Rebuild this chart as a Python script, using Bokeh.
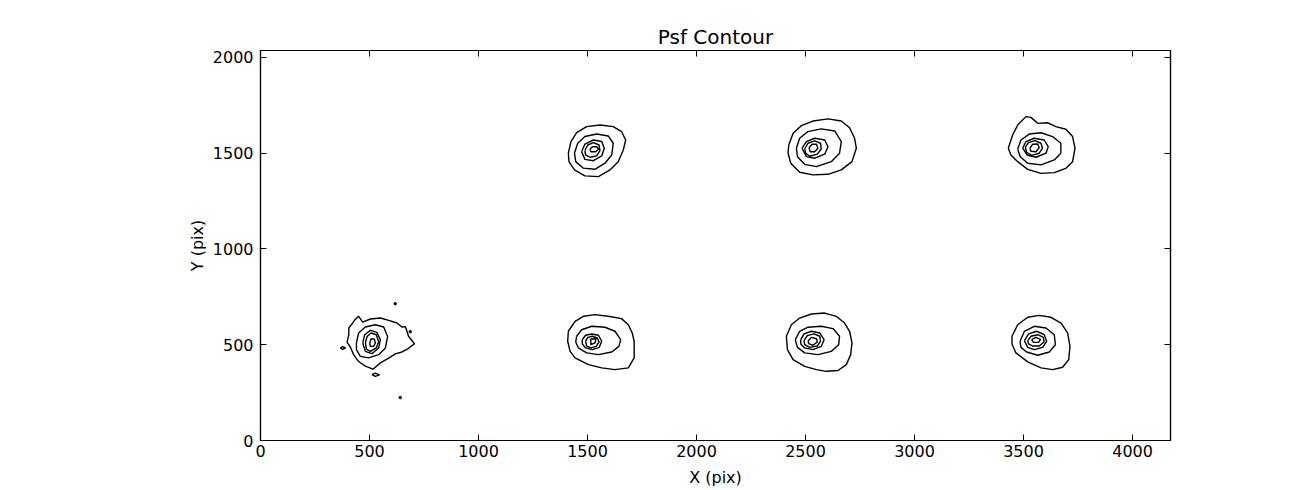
from bokeh.plotting import figure
from bokeh.models import Range1d, LinearAxis, FixedTicker, CustomJSTickFormatter
from bokeh.embed import file_html
from bokeh.resources import INLINE

# ---- axis ticks ----
x_ticks = [0, 500, 1000, 1500, 2000, 2500, 3000, 3500, 4000]
y_ticks = [0, 500, 1000, 1500, 2000]
x_max = 4174
y_max = 2035

# ---- contour vertices (data units), outermost to innermost ----
# PSF at (~500, ~500)
psf_a_x = [
    [397, 405, 405, 420, 431, 450, 469, 504, 550, 588, 626, 649, 664, 672, 679, 706, 675, 649, 618, 588, 550, 516, 481, 450, 427, 412],
    [440, 450, 481, 527, 565, 583, 573, 542, 496, 458, 440],
    [469, 478, 504, 534, 550, 542, 511, 481],
    [481, 489, 507, 531, 542, 531, 504, 486],
    [501, 507, 522, 527, 519, 504],
]
psf_a_y = [
    [512, 552, 587, 609, 627, 648, 618, 634, 639, 627, 613, 592, 594, 570, 544, 505, 478, 462, 452, 430, 405, 372, 388, 412, 448, 488],
    [509, 561, 592, 604, 592, 543, 483, 448, 431, 439, 474],
    [509, 552, 575, 564, 526, 483, 453, 465],
    [509, 543, 561, 552, 517, 483, 465, 477],
    [509, 530, 530, 509, 491, 491],
]
# small islands near the first PSF
island_x = [[366, 377, 389, 377], [511, 527, 545, 527]]
island_y = [[483, 490, 483, 476], [344, 352, 342, 335]]
speck_x = [618, 687, 641]
speck_y = [714, 568, 224]

# PSF at (~1500, ~500)
psf_b_x = [
    [1412, 1443, 1481, 1534, 1595, 1656, 1687, 1705, 1714, 1714, 1687, 1626, 1565, 1504, 1443, 1420, 1409],
    [1450, 1473, 1519, 1580, 1626, 1652, 1644, 1611, 1550, 1496, 1458, 1446],
    [1476, 1491, 1519, 1550, 1565, 1554, 1522, 1491, 1476],
    [1491, 1501, 1522, 1545, 1553, 1540, 1516, 1496],
    [1514, 1539, 1534, 1516],
]
psf_b_y = [
    [570, 622, 648, 657, 648, 636, 604, 561, 518, 431, 379, 370, 379, 396, 431, 465, 518],
    [544, 578, 596, 591, 570, 526, 491, 462, 448, 457, 483, 514],
    [526, 549, 556, 549, 518, 486, 474, 483, 504],
    [518, 538, 544, 535, 514, 491, 483, 493],
    [530, 531, 509, 500],
]

# PSF at (~2500, ~500)
psf_c_x = [
    [2412, 2435, 2473, 2527, 2588, 2641, 2679, 2702, 2713, 2707, 2687, 2649, 2595, 2550, 2496, 2443, 2417],
    [2453, 2473, 2511, 2572, 2626, 2656, 2652, 2618, 2557, 2496, 2463],
    [2478, 2493, 2527, 2565, 2585, 2572, 2534, 2496, 2478],
    [2493, 2508, 2539, 2565, 2569, 2554, 2519, 2496],
    [2511, 2527, 2550, 2554, 2534, 2516],
]
psf_c_y = [
    [544, 604, 639, 660, 665, 648, 613, 570, 509, 448, 396, 365, 361, 370, 387, 422, 474],
    [526, 570, 591, 596, 584, 544, 500, 465, 448, 457, 486],
    [526, 556, 570, 561, 526, 491, 474, 483, 504],
    [521, 547, 556, 544, 518, 493, 486, 500],
    [518, 538, 531, 514, 497, 504],
]

# PSF at (~3500, ~500)
psf_d_x = [
    [3447, 3473, 3519, 3572, 3626, 3672, 3702, 3713, 3707, 3679, 3633, 3580, 3519, 3465, 3447],
    [3484, 3504, 3549, 3603, 3641, 3646, 3618, 3565, 3514, 3488],
    [3504, 3523, 3560, 3595, 3606, 3588, 3549, 3519],
    [3519, 3534, 3565, 3591, 3594, 3572, 3542, 3523],
    [3537, 3557, 3578, 3569, 3546],
]
psf_d_y = [
    [544, 604, 643, 653, 643, 613, 561, 491, 422, 382, 370, 379, 410, 457, 504],
    [518, 570, 596, 587, 552, 500, 462, 445, 462, 486],
    [521, 556, 570, 552, 518, 486, 474, 486],
    [521, 544, 552, 538, 514, 493, 493, 504],
    [526, 538, 528, 512, 512],
]

# PSF at (~1500, ~1500)
psf_e_x = [
    [1412, 1424, 1450, 1496, 1557, 1618, 1656, 1675, 1664, 1641, 1603, 1550, 1488, 1440, 1415],
    [1440, 1455, 1488, 1542, 1595, 1618, 1611, 1580, 1534, 1481, 1446],
    [1473, 1488, 1527, 1565, 1577, 1565, 1527, 1488],
    [1488, 1501, 1527, 1553, 1557, 1542, 1511, 1491],
    [1511, 1522, 1543, 1550, 1537, 1516],
]
psf_e_y = [
    [1499, 1560, 1606, 1638, 1646, 1638, 1612, 1568, 1516, 1455, 1412, 1377, 1381, 1412, 1455],
    [1499, 1551, 1586, 1599, 1589, 1551, 1490, 1447, 1415, 1421, 1455],
    [1507, 1547, 1568, 1560, 1525, 1485, 1460, 1467],
    [1513, 1542, 1554, 1542, 1513, 1485, 1478, 1490],
    [1520, 1533, 1533, 1520, 1507, 1507],
]

# PSF at (~2500, ~1500)
psf_f_x = [
    [2423, 2443, 2481, 2534, 2603, 2664, 2702, 2725, 2733, 2713, 2664, 2603, 2534, 2473, 2432, 2420],
    [2458, 2473, 2511, 2572, 2634, 2664, 2656, 2618, 2550, 2496, 2463],
    [2484, 2504, 2542, 2588, 2603, 2588, 2542, 2504],
    [2496, 2511, 2542, 2569, 2572, 2554, 2519, 2501],
    [2516, 2530, 2550, 2557, 2542, 2521],
]
psf_f_y = [
    [1542, 1603, 1643, 1667, 1678, 1667, 1632, 1577, 1525, 1455, 1412, 1389, 1386, 1400, 1447, 1499],
    [1525, 1577, 1612, 1626, 1615, 1560, 1499, 1455, 1429, 1441, 1481],
    [1525, 1560, 1577, 1568, 1533, 1494, 1473, 1481],
    [1521, 1551, 1563, 1551, 1521, 1494, 1483, 1499],
    [1528, 1546, 1546, 1525, 1507, 1507],
]

# PSF at (~3500, ~1500)
psf_g_x = [
    [3430, 3450, 3473, 3511, 3534, 3565, 3610, 3648, 3694, 3725, 3736, 3725, 3694, 3641, 3580, 3519, 3473, 3442],
    [3473, 3488, 3526, 3580, 3633, 3671, 3671, 3641, 3580, 3519, 3485],
    [3496, 3511, 3549, 3595, 3613, 3603, 3557, 3516],
    [3508, 3522, 3552, 3580, 3587, 3572, 3537, 3514],
    [3529, 3542, 3565, 3572, 3557, 3534],
]
psf_g_y = [
    [1525, 1594, 1646, 1690, 1686, 1655, 1658, 1638, 1624, 1586, 1525, 1455, 1420, 1398, 1394, 1415, 1455, 1490],
    [1520, 1568, 1599, 1606, 1586, 1551, 1499, 1464, 1438, 1447, 1481],
    [1525, 1560, 1577, 1568, 1533, 1499, 1478, 1490],
    [1530, 1554, 1565, 1551, 1525, 1499, 1488, 1504],
    [1525, 1546, 1547, 1528, 1507, 1509],
]

FONT = "DejaVu Sans"

p = figure(
    width=1300, height=489,
    x_range=Range1d(0, x_max), y_range=Range1d(0, y_max),
    output_backend="svg", toolbar_location=None,
    min_border_left=260, min_border_right=130, min_border_top=50, min_border_bottom=48,
    title="Psf Contour",
)
p.background_fill_color = "white"
p.border_fill_color = "white"
p.outline_line_color = "black"
p.outline_line_width = 1.2
p.grid.visible = False

p.title.text_font = FONT
p.title.text_font_size = "20px"
p.title.text_font_style = "normal"
p.title.text_color = "black"
p.title.align = "center"
p.title.standoff = 3

p.add_layout(LinearAxis(), "above")
p.add_layout(LinearAxis(), "right")

for ax in p.xaxis:
    ax.ticker = FixedTicker(ticks=x_ticks, minor_ticks=[])
for ax in p.yaxis:
    ax.ticker = FixedTicker(ticks=y_ticks, minor_ticks=[])

for ax in p.xaxis + p.yaxis:
    ax.major_tick_in = 6
    ax.major_tick_out = 0
    ax.minor_tick_in = 0
    ax.minor_tick_out = 0
    ax.major_tick_line_color = "black"
    ax.axis_line_color = "black"
    ax.axis_line_width = 1.2
    ax.major_label_text_font = FONT
    ax.major_label_text_font_size = "16px"
    ax.major_label_text_color = "black"
    ax.axis_label_text_font = FONT
    ax.axis_label_text_font_size = "16px"
    ax.axis_label_text_font_style = "normal"
    ax.axis_label_text_color = "black"

# top/right axes only carry the inward ticks, no labels
for ax in p.above + p.right:
    ax.formatter = CustomJSTickFormatter(code="return ''")
    ax.major_label_standoff = 0

bx = p.below[0]
bx.axis_label = "X (pix)"
bx.major_label_standoff = 4
bx.axis_label_standoff = 8

ly = p.left[0]
ly.axis_label = "Y (pix)"
ly.major_label_standoff = 7
ly.axis_label_standoff = 3


def closed(seq):
    return list(seq) + [seq[0]]


all_x = []
all_y = []
for xs_set, ys_set in [(psf_a_x, psf_a_y), (psf_b_x, psf_b_y), (psf_c_x, psf_c_y),
                       (psf_d_x, psf_d_y), (psf_e_x, psf_e_y), (psf_f_x, psf_f_y),
                       (psf_g_x, psf_g_y), (island_x, island_y)]:
    for cx, cy in zip(xs_set, ys_set):
        all_x.append(closed(cx))
        all_y.append(closed(cy))

p.multi_line(all_x, all_y, line_color="black", line_width=1.4, line_join="round")
p.scatter(speck_x, speck_y, size=2.5, color="black")

open("out.html", "w").write(file_html(p, INLINE))
